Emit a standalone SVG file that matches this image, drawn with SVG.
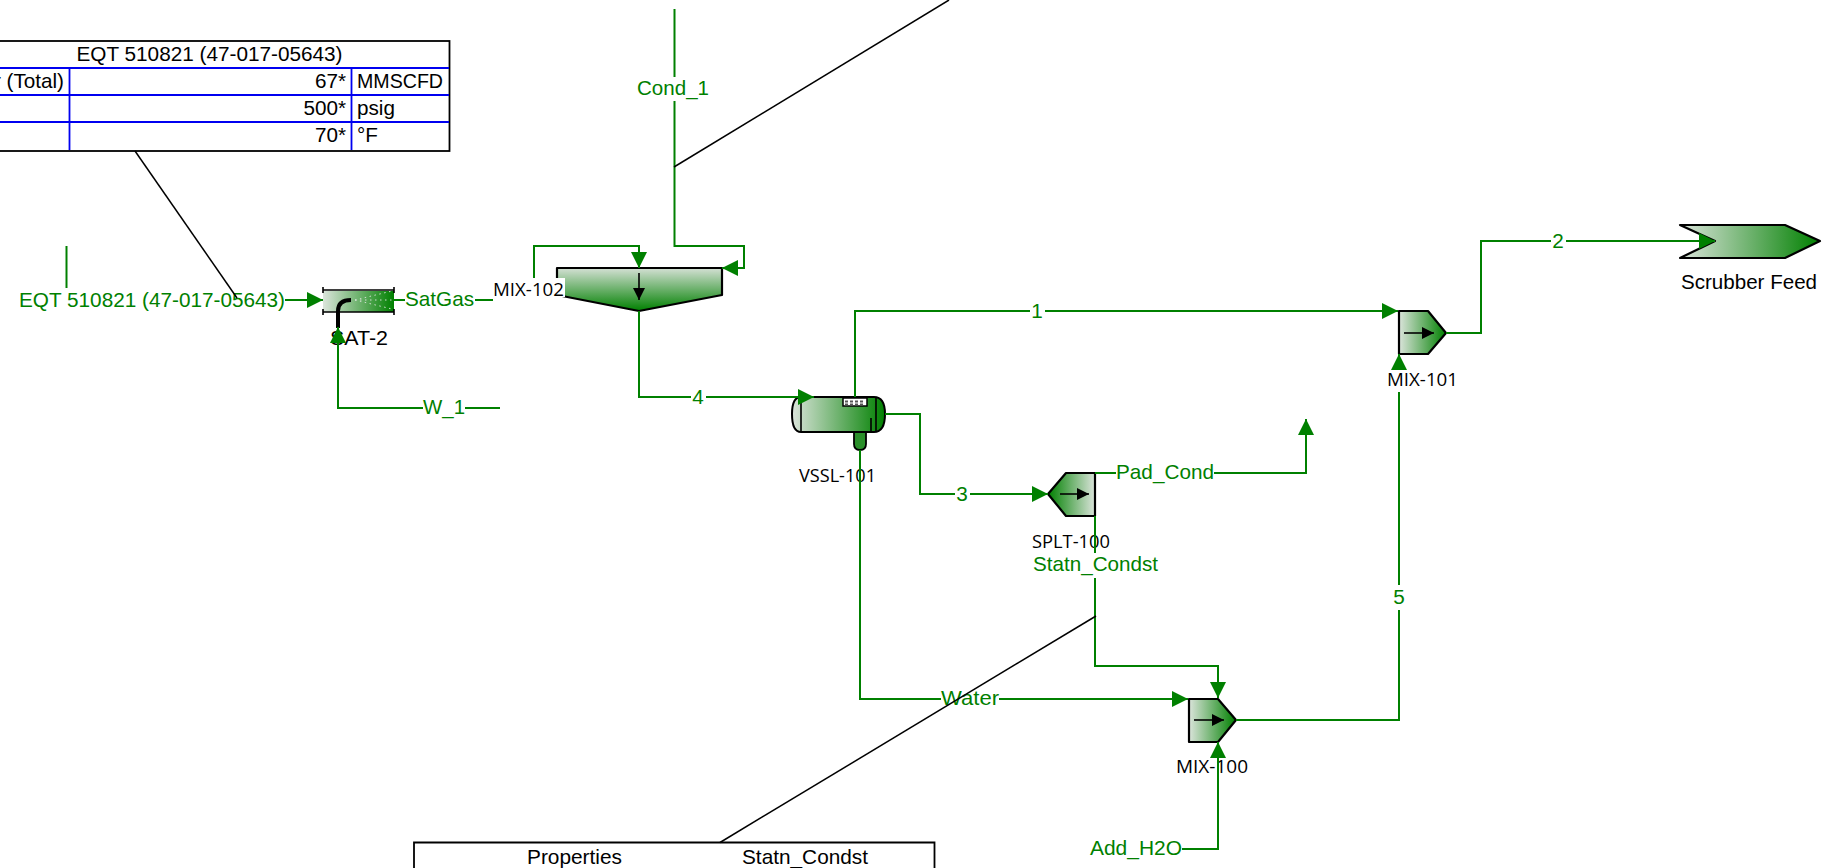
<svg xmlns="http://www.w3.org/2000/svg" width="1826" height="868" viewBox="0 0 1826 868">
<style>
text{font-family:"Liberation Sans",Arial,sans-serif;font-size:20.7px;fill:#000}
.g{fill:#008000}
.n{font-family:"Open Sans","Noto Sans",sans-serif;font-size:17.5px;fill:#000}
.c{fill:none;stroke:#008000;stroke-width:2}
.l{fill:none;stroke:#000;stroke-width:1.5}
.s{stroke:#000;stroke-width:2.2;stroke-linejoin:round}
.w{fill:#fff;stroke:none}
.t{fill:#fff;stroke:#000;stroke-width:1.8}
.b{fill:none;stroke:#0000f0;stroke-width:1.8}
.a{fill:none;stroke:#000;stroke-width:1.6}
</style>
<defs>
<linearGradient id="lr"><stop offset="0" stop-color="#dbe4db"/><stop offset="1" stop-color="#008000"/></linearGradient>
<linearGradient id="rl"><stop offset="0" stop-color="#008000"/><stop offset="1" stop-color="#dbe4db"/></linearGradient>
<linearGradient id="tb" x1="0" y1="0" x2="0" y2="1"><stop offset="0" stop-color="#d4e0d4"/><stop offset="1" stop-color="#008000"/></linearGradient>
<marker id="ah" viewBox="0 0 16 16" refX="16" refY="8" markerWidth="16" markerHeight="16" markerUnits="userSpaceOnUse" orient="auto"><polygon points="0,0 16,8 0,16" fill="#008000"/></marker>
<marker id="ak" viewBox="0 0 12 12" refX="12" refY="6" markerWidth="12" markerHeight="12" markerUnits="userSpaceOnUse" orient="auto"><polygon points="0,0 12,6 0,12" fill="#000"/></marker>
</defs>
<rect width="1826" height="868" fill="#fff"/>

<g id="table-feed">
<rect class="t" x="-5" y="41" width="454.500" height="110"/>
<path class="b" d="M0 68H449M0 95H449M0 122H449M69.500 68V150M351.500 68V150"/>
<text x="209.500" y="61" text-anchor="middle" textLength="266" lengthAdjust="spacingAndGlyphs">EQT 510821 (47-017-05643)</text>
<text x="64" y="88" text-anchor="end">r (Total)</text>
<text x="346" y="88" text-anchor="end">67*</text>
<text x="357" y="88" textLength="86" lengthAdjust="spacingAndGlyphs">MMSCFD</text>
<text x="346" y="115" text-anchor="end">500*</text>
<text x="357" y="115">psig</text>
<text x="346" y="142" text-anchor="end">70*</text>
<text x="357" y="142">°F</text>
</g>

<g id="table-props">
<path class="t" d="M414 868V842.500H934.500V868"/>
<text x="527" y="864" textLength="95" lengthAdjust="spacingAndGlyphs">Properties</text>
<text x="742" y="864" textLength="126" lengthAdjust="spacingAndGlyphs">Statn_Condst</text>
</g>

<g id="SAT-2">
<rect x="323" y="291" width="71" height="21" fill="url(#lr)"/>
<path class="a" stroke-width="2" d="M323 290H394M323 312H394M323 287V293M394 287V293M323 309V315M394 309V315"/>
<path d="M338 328V311Q338 300 351 300" fill="none" stroke="#000" stroke-width="4"/>
<path d="M355 300L392 291M355 300H392M355 300L392 309" fill="none" stroke="#cfe0cf" stroke-width="1" stroke-dasharray="1.500 3.500"/>
<text x="330" y="345" textLength="58" lengthAdjust="spacingAndGlyphs">SAT-2</text>
</g>

<g id="MIX-102">
<polygon class="s" points="557,268 722,268 722,295 639,311 557,295" fill="url(#tb)"/>
<line class="a" x1="639" y1="273" x2="639" y2="300" marker-end="url(#ak)"/>
<rect class="w" x="493" y="278" width="72" height="19"/>
<text class="n" x="493" y="296" textLength="71" lengthAdjust="spacingAndGlyphs">MIX-102</text>
</g>

<g id="VSSL-101">
<path d="M861 432H866V444Q866 450 860 450Q854 450 854 444V432Z" fill="#2a8f2a" stroke="#000" stroke-width="1.800"/>
<path d="M801 397H874Q885 397 885 414Q885 432 874 432H801Q792 432 792 414Q792 397 801 397Z" fill="url(#lr)" stroke="#000" stroke-width="2"/>
<path class="a" stroke-width="2" d="M801 397V432M876 397V432M871 418V432"/>
<rect x="843" y="398" width="24" height="8" fill="#fff" stroke="#000" stroke-width="1.500"/>
<path d="M845 401.500H865M845 404.500H865" stroke="#555" stroke-width="2" stroke-dasharray="3 2"/>
<text class="n" x="799" y="482" textLength="77" lengthAdjust="spacingAndGlyphs">VSSL-101</text>
</g>

<g id="SPLT-100">
<polygon class="s" points="1048,494 1066,473 1095,473 1095,516 1066,516" fill="url(#rl)"/>
<line class="a" x1="1060" y1="494" x2="1089" y2="494" marker-end="url(#ak)"/>
<text class="n" x="1032" y="547.500" textLength="78" lengthAdjust="spacingAndGlyphs">SPLT-100</text>
</g>

<g id="MIX-100">
<polygon class="s" points="1189,699 1218,699 1236,720 1218,742 1189,742" fill="url(#lr)"/>
<line class="a" x1="1194" y1="720" x2="1224" y2="720" marker-end="url(#ak)"/>
<text class="n" x="1176" y="773" textLength="72" lengthAdjust="spacingAndGlyphs">MIX-100</text>
</g>

<g id="MIX-101">
<polygon class="s" points="1399,311 1428,311 1446,333 1428,354 1399,354" fill="url(#lr)"/>
<line class="a" x1="1404" y1="333" x2="1434" y2="333" marker-end="url(#ak)"/>
<text class="n" x="1387" y="386" textLength="71" lengthAdjust="spacingAndGlyphs">MIX-101</text>
</g>

<g id="ScrubberFeed">
<polygon class="s" points="1680,225 1785,225 1820,241 1785,258 1680,258 1715,241" fill="url(#lr)"/>
<text x="1681" y="289" textLength="136" lengthAdjust="spacingAndGlyphs">Scrubber Feed</text>
</g>

<g id="connectors">
<line class="c" x1="66.500" y1="246" x2="66.500" y2="288"/>
<polyline class="c" points="285,300 323,300" marker-end="url(#ah)"/>
<polyline class="c" points="394,300 493,300"/>
<polyline class="c" points="500,408 338,408 338,327" marker-end="url(#ah)"/>
<polyline class="c" points="534,278 534,246 639,246 639,268" marker-end="url(#ah)"/>
<polyline class="c" points="674.500,9 674.500,246 744,246 744,268 722,268" marker-end="url(#ah)"/>
<polyline class="c" points="639,311 639,397 814,397" marker-end="url(#ah)"/>
<polyline class="c" points="855,397 855,311 1398,311" marker-end="url(#ah)"/>
<polyline class="c" points="885,414 920,414 920,494 1048,494" marker-end="url(#ah)"/>
<polyline class="c" points="860,450 860,699 1188,699" marker-end="url(#ah)"/>
<polyline class="c" points="1095,473 1306,473 1306,419" marker-end="url(#ah)"/>
<polyline class="c" points="1095,516 1095,666 1218,666 1218,698" marker-end="url(#ah)"/>
<polyline class="c" points="1182,849 1218,849 1218,742" marker-end="url(#ah)"/>
<polyline class="c" points="1236,720 1399,720 1399,392"/>
<polyline class="c" points="1399,370 1399,354" marker-end="url(#ah)"/>
<polyline class="c" points="1446,333 1481,333 1481,241 1715,241" marker-end="url(#ah)"/>
</g>

<g id="stream-labels">
<text class="g" x="19" y="307" textLength="266" lengthAdjust="spacingAndGlyphs">EQT 510821 (47-017-05643)</text>
<rect class="w" x="405" y="290" width="70" height="20"/>
<text class="g" x="405" y="306" textLength="69" lengthAdjust="spacingAndGlyphs">SatGas</text>
<rect class="w" x="423" y="398" width="42" height="20"/>
<text class="g" x="423" y="414" textLength="42" lengthAdjust="spacingAndGlyphs">W_1</text>
<rect class="w" x="637" y="77" width="72" height="24"/>
<text class="g" x="637" y="95" textLength="72" lengthAdjust="spacingAndGlyphs">Cond_1</text>
<rect class="w" x="691" y="387" width="15" height="20"/>
<text class="g" x="698" y="404" text-anchor="middle">4</text>
<rect class="w" x="1030" y="301" width="15" height="20"/>
<text class="g" x="1037" y="318" text-anchor="middle">1</text>
<rect class="w" x="955" y="484" width="15" height="20"/>
<text class="g" x="962" y="501" text-anchor="middle">3</text>
<rect class="w" x="1551" y="231" width="15" height="20"/>
<text class="g" x="1558" y="248" text-anchor="middle">2</text>
<rect class="w" x="1391" y="585" width="16" height="25"/>
<text class="g" x="1399" y="604" text-anchor="middle">5</text>
<rect class="w" x="1116" y="463" width="98" height="20"/>
<text class="g" x="1116" y="478.500" textLength="98" lengthAdjust="spacingAndGlyphs">Pad_Cond</text>
<rect class="w" x="1033" y="553" width="125" height="25"/>
<text class="g" x="1033" y="571" textLength="125" lengthAdjust="spacingAndGlyphs">Statn_Condst</text>
<rect class="w" x="941" y="689" width="58" height="20"/>
<text class="g" x="941" y="704.500" textLength="58" lengthAdjust="spacingAndGlyphs">Water</text>
<rect class="w" x="1090" y="839" width="92" height="20"/>
<text class="g" x="1090" y="855" textLength="92" lengthAdjust="spacingAndGlyphs">Add_H2O</text>
</g>

<g id="leaders">
<line class="l" x1="135" y1="151" x2="237" y2="298"/>
<line class="l" x1="674" y1="167" x2="949" y2="0"/>
<line class="l" x1="1096" y1="616" x2="720" y2="842.500"/>
</g>
</svg>
